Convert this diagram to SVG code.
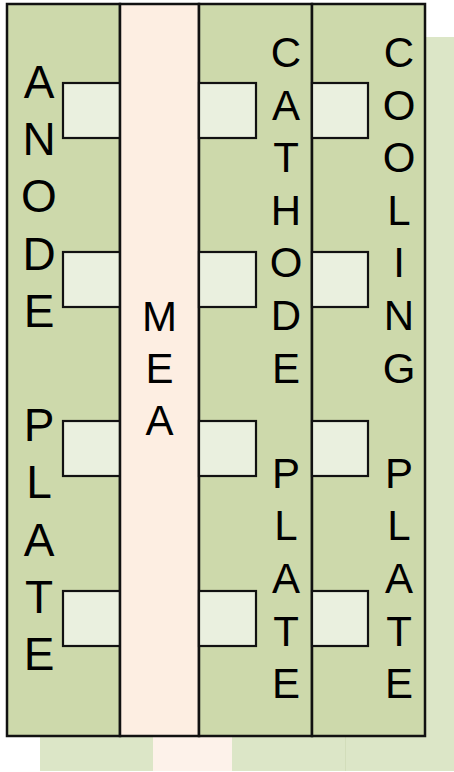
<svg xmlns="http://www.w3.org/2000/svg" width="454" height="772" viewBox="0 0 454 772">
<style>
.plate{fill:#cdd9ab;stroke:#111;stroke-width:2.5}
.mea{fill:#fdeee2;stroke:#111;stroke-width:2.5}
.ch{fill:#eaf0df;stroke:#111;stroke-width:2.2}
.sg{fill:#dce6c7}
.sp{fill:#fdf2ea}
text{font-family:"Liberation Sans",Arial,sans-serif;fill:#000;text-anchor:middle}
.big{font-size:46px}
.mid{font-size:42px}
</style>
<rect width="454" height="772" fill="#ffffff"/>
<g id="shadow">
<rect class="sg" x="40" y="37" width="113" height="734"/>
<rect class="sp" x="153" y="37" width="79" height="734"/>
<rect class="sg" x="232" y="37" width="113" height="734"/>
<rect class="sg" x="345" y="37" width="113" height="734"/>
<line x1="345.5" y1="37" x2="345.5" y2="771" stroke="#d2ddba" stroke-width="1"/>
</g>
<g id="anode-plate">
<rect class="plate" x="7" y="4" width="113" height="732"/>
<rect class="ch" x="63" y="83" width="57" height="55"/>
<rect class="ch" x="63" y="252" width="57" height="55"/>
<rect class="ch" x="63" y="421" width="57" height="55"/>
<rect class="ch" x="63" y="591" width="57" height="55"/>
<text class="big" x="39" y="98">A</text>
<text class="big" x="39" y="155.2">N</text>
<text class="big" x="39" y="212.4">O</text>
<text class="big" x="39" y="269.6">D</text>
<text class="big" x="39" y="326.8">E</text>
<text class="big" x="39" y="441.2">P</text>
<text class="big" x="39" y="498.4">L</text>
<text class="big" x="39" y="555.6">A</text>
<text class="big" x="39" y="612.8">T</text>
<text class="big" x="39" y="670">E</text>
</g>
<g id="mea">
<rect class="mea" x="120" y="4" width="79" height="732"/>
<text class="mid" x="159.5" y="331">M</text>
<text class="mid" x="159.5" y="383">E</text>
<text class="mid" x="159.5" y="435">A</text>
</g>
<g id="cathode-plate">
<rect class="plate" x="199" y="4" width="113" height="732"/>
<rect class="ch" x="199" y="83" width="57" height="55"/>
<rect class="ch" x="199" y="252" width="57" height="55"/>
<rect class="ch" x="199" y="421" width="57" height="55"/>
<rect class="ch" x="199" y="591" width="57" height="55"/>
<text class="mid" x="286" y="67">C</text>
<text class="mid" x="286" y="119.6">A</text>
<text class="mid" x="286" y="172.2">T</text>
<text class="mid" x="286" y="224.8">H</text>
<text class="mid" x="286" y="277.4">O</text>
<text class="mid" x="286" y="330">D</text>
<text class="mid" x="286" y="382.6">E</text>
<text class="mid" x="286" y="487.8">P</text>
<text class="mid" x="286" y="540.4">L</text>
<text class="mid" x="286" y="593">A</text>
<text class="mid" x="286" y="645.6">T</text>
<text class="mid" x="286" y="698.2">E</text>
</g>
<g id="cooling-plate">
<rect class="plate" x="312" y="4" width="113" height="732"/>
<rect class="ch" x="312" y="83" width="56" height="55"/>
<rect class="ch" x="312" y="252" width="56" height="55"/>
<rect class="ch" x="312" y="421" width="56" height="55"/>
<rect class="ch" x="312" y="591" width="56" height="55"/>
<text class="mid" x="399" y="67">C</text>
<text class="mid" x="399" y="119.6">O</text>
<text class="mid" x="399" y="172.2">O</text>
<text class="mid" x="399" y="224.8">L</text>
<text class="mid" x="399" y="277.4">I</text>
<text class="mid" x="399" y="330">N</text>
<text class="mid" x="399" y="382.6">G</text>
<text class="mid" x="399" y="487.8">P</text>
<text class="mid" x="399" y="540.4">L</text>
<text class="mid" x="399" y="593">A</text>
<text class="mid" x="399" y="645.6">T</text>
<text class="mid" x="399" y="698.2">E</text>
</g>
</svg>
